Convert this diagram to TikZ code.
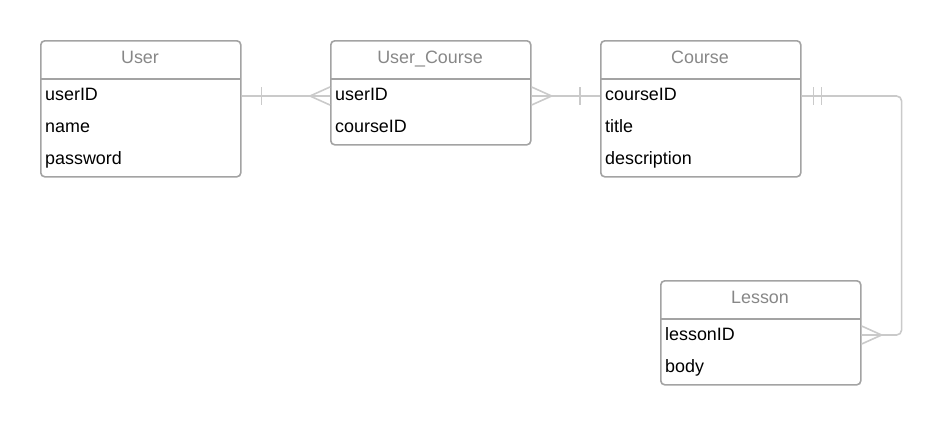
\documentclass[tikz,border=0pt]{standalone}
\usepackage{fontspec}
\setmainfont{Liberation Sans}
\usetikzlibrary{calc}

\definecolor{boxgray}{HTML}{A3A3A3}
\definecolor{titlegray}{HTML}{878787}
\definecolor{linegray}{HTML}{CACACA}

\tikzset{
  every node/.style={font=\fontsize{17.9}{21}\selectfont},
  table/.style={draw=boxgray, line width=1.6pt, rounded corners=4pt, anchor=north west,
    minimum width=200pt, inner sep=0pt},
  headline/.style={draw=boxgray, line width=1.6pt},
  title/.style={text=titlegray, anchor=base, inner sep=0pt},
  field/.style={anchor=base west, inner sep=0pt},
  rel/.style={draw=linegray, line width=1.6pt},
}

\begin{document}
\begin{tikzpicture}[x=1pt,y=-1pt]
  \useasboundingbox (0,0) rectangle (941,424);

  % tables
  \node[table, minimum height=136pt] (user) at (40,40) {};
  \draw[headline] (40,79) -- (240,79);
  \node[title] (user-t) at (140,63.5) {User};
  \node[field] (user-id) at (45,100.5) {userID};
  \node[field] (user-name) at (45,132.5) {name};
  \node[field] (user-pw) at (45,164.5) {password};

  \node[table, minimum height=104pt] (uc) at (330,40) {};
  \draw[headline] (330,79) -- (530,79);
  \node[title] (uc-t) at (430,63.5) {User\_Course};
  \node[field] (uc-uid) at (335,100.5) {userID};
  \node[field] (uc-cid) at (335,132.5) {courseID};

  \node[table, minimum height=136pt] (course) at (600,40) {};
  \draw[headline] (600,79) -- (800,79);
  \node[title] (course-t) at (700,63.5) {Course};
  \node[field] (course-id) at (605,100.5) {courseID};
  \node[field] (course-title) at (605,132.5) {title};
  \node[field] (course-desc) at (605,164.5) {description};

  \node[table, minimum height=104pt] (lesson) at (660,280) {};
  \draw[headline] (660,319) -- (860,319);
  \node[title] (lesson-t) at (760,303.5) {Lesson};
  \node[field] (lesson-id) at (665,340.5) {lessonID};
  \node[field] (lesson-body) at (665,372.5) {body};

  % relations
  \coordinate (r1a) at (user.east |- 0,96);
  \coordinate (r1b) at (uc.west |- 0,96);
  \draw[rel] (r1a) -- (r1b);
  \draw[rel] ([xshift=20pt]r1a) ++(0,-9) -- ++(0,18);
  \draw[rel] ([xshift=-20pt]r1b) -- ++(20,-9);
  \draw[rel] ([xshift=-20pt]r1b) -- ++(20,9);

  \coordinate (r2a) at (uc.east |- 0,96);
  \coordinate (r2b) at (course.west |- 0,96);
  \draw[rel] (r2a) -- (r2b);
  \draw[rel] ([xshift=20pt]r2a) -- ++(-20,-9);
  \draw[rel] ([xshift=20pt]r2a) -- ++(-20,9);
  \draw[rel] ([xshift=-20pt]r2b) ++(0,-9) -- ++(0,18);

  \coordinate (r3a) at (course.east |- 0,96);
  \coordinate (r3b) at (lesson.east |- 0,335);
  \draw[rel, rounded corners=5pt] (r3a) -| ([xshift=40pt]r3b) -- (r3b);
  \draw[rel] ([xshift=12pt]r3a) ++(0,-9) -- ++(0,18);
  \draw[rel] ([xshift=20pt]r3a) ++(0,-9) -- ++(0,18);
  \draw[rel] ([xshift=20pt]r3b) -- ++(-20,-9);
  \draw[rel] ([xshift=20pt]r3b) -- ++(-20,9);
\end{tikzpicture}
\end{document}
